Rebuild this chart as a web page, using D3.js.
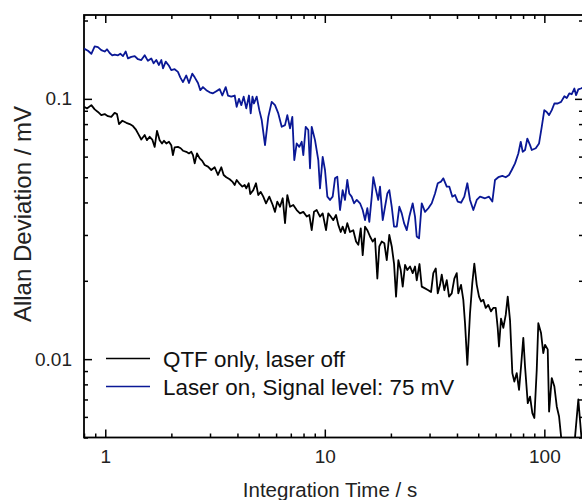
<!DOCTYPE html>
<html>
<head>
<meta charset="utf-8">
<script src="https://cdn.jsdelivr.net/npm/d3@7"></script>
<style>
  html, body { margin: 0; padding: 0; background: #fff; }
  svg { display: block; font-family: "Liberation Sans", Arial, sans-serif; }
</style>
</head>
<body>
<svg id="chart" width="582" height="500"></svg>
<script>
// ---- Data ----
const tauQTF = [0.80,0.825,0.864,0.895,0.926,0.959,0.994,1.028,1.065,1.103,
1.131,1.155,1.196,1.247,1.292,1.337,1.376,1.409,1.459,1.512,
1.548,1.593,1.637,1.679,1.720,1.769,1.813,1.851,1.897,1.950,
1.998,2.033,2.070,2.143,2.205,2.259,2.339,2.406,2.466,2.509,
2.555,2.617,2.692,2.765,2.837,2.936,3.040,3.151,3.261,3.377,
3.462,3.558,3.687,3.790,3.886,3.968,4.096,4.210,4.315,4.389,
4.500,4.577,4.722,4.859,4.977,5.106,5.245,5.398,5.586,5.791,
5.931,6.073,6.251,6.430,6.588,6.749,6.942,7.184,7.447,7.709,
7.981,8.271,8.499,8.716,8.928,9.185,9.508,9.780,10.13,10.37,
10.64,10.93,11.25,11.52,11.82,12.06,12.36,12.66,13.02,13.48,
13.88,14.21,14.58,14.88,15.25,15.62,16.07,16.53,16.93,17.35,
17.71,18.16,18.67,19.15,19.67,20.18,20.67,21.11,21.63,22.17,
22.64,23.20,23.77,24.45,25.14,25.76,26.22,27.0,27.64,28.61,
29.62,30.47,31.21,32.02,32.70,33.49,34.09,35.03,35.93,36.80,
37.86,38.91,39.90,40.56,41.74,42.75,43.52,44.59,45.86,46.97,
47.98,49.21,50.41,51.48,52.71,54.08,55.54,57.16,58.54,60.05,
61.31,62.16,63.49,65.03,66.71,68.11,69.78,71.49,73.00,74.86,
76.69,78.32,80.20,81.67,84.03,86.08,88.19,90.04,92.34,93.87,
96.60,98.89,100.7,103.6,105.1,108.1,111.1,113.9,116.7,119.2,
123,131,138.0,142.8,147.5,151];
const adevQTF = [0.0932,0.0919,0.0946,0.0911,0.0891,0.0866,0.0874,0.0858,0.0853,0.0884,
0.0874,0.0800,0.0824,0.0809,0.0800,0.0786,0.0764,0.0737,0.0698,0.0726,
0.0694,0.0715,0.0698,0.0654,0.0754,0.0694,0.0674,0.0690,0.0674,0.0684,
0.0664,0.0608,0.0651,0.0654,0.0646,0.0632,0.0626,0.0617,0.0626,0.0608,
0.0565,0.0617,0.0591,0.0578,0.0557,0.0549,0.0533,0.0546,0.0510,0.0546,
0.0510,0.0500,0.0491,0.0481,0.0467,0.0488,0.0471,0.0460,0.0467,0.0453,
0.0474,0.0431,0.0446,0.0474,0.0427,0.0439,0.0421,0.0397,0.0421,0.0391,
0.0368,0.0403,0.0385,0.0415,0.0333,0.0427,0.0385,0.0391,0.0374,0.0363,
0.0368,0.0353,0.0358,0.0313,0.0368,0.0374,0.0353,0.0363,0.0313,0.0363,
0.0353,0.0342,0.0358,0.0328,0.0308,0.0323,0.0305,0.0333,0.0308,0.0313,
0.0283,0.0275,0.0318,0.0251,0.0323,0.0313,0.0296,0.0283,0.0291,0.0204,
0.0271,0.0283,0.0279,0.0240,0.0300,0.0271,0.0233,0.01739,0.0240,0.0220,
0.0190,0.0230,0.0220,0.0227,0.0214,0.0227,0.0201,0.0232,0.0190,0.0187,
0.0184,0.0181,0.0214,0.0223,0.0179,0.0193,0.0211,0.0184,0.0201,0.01739,
0.0179,0.0204,0.0214,0.0179,0.0193,0.0169,0.01374,0.00951,0.01501,0.0196,
0.0233,0.0193,0.01739,0.01665,0.0169,0.01573,0.01616,0.01527,0.01573,0.01573,
0.0132,0.01118,0.01431,0.0132,0.01479,0.01739,0.0141,0.00884,0.00820,0.00884,
0.00762,0.00937,0.01208,0.00937,0.00678,0.00718,0.00620,0.00594,0.00910,0.01374,
0.01259,0.01055,0.01135,0.0109,0.00629,0.00846,0.00785,0.00658,0.00602,0.00504,
0.0043,0.0042,0.00503,0.0070,0.00503,0.0045];

const tauLaser = [0.80,0.834,0.864,0.895,0.926,0.959,0.994,1.018,1.047,1.076,
1.103,1.143,1.171,1.204,1.239,1.269,1.314,1.362,1.409,1.459,
1.512,1.564,1.620,1.661,1.707,1.756,1.800,1.832,1.885,1.950,
1.998,2.070,2.143,2.196,2.259,2.339,2.406,2.492,2.555,2.644,
2.710,2.786,2.885,2.989,3.095,3.205,3.320,3.413,3.536,3.621,
3.750,3.886,3.968,4.066,4.166,4.270,4.389,4.514,4.596,4.683,
4.757,4.895,5.031,5.159,5.341,5.528,5.729,5.931,6.140,6.364,
6.588,6.749,6.942,7.112,7.261,7.447,7.652,7.848,7.981,8.185,
8.410,8.562,8.716,9.023,9.340,9.508,9.780,10.02,10.27,10.56,
10.86,11.13,11.40,11.73,12.06,12.36,12.66,12.92,13.25,13.59,
13.98,14.47,14.88,15.25,15.62,15.95,16.36,16.63,17.11,17.52,
17.84,18.36,18.81,19.27,19.67,20.18,20.67,21.27,21.85,22.41,
22.96,23.62,24.27,25.14,25.76,26.22,26.87,27.64,28.61,29.62,
30.69,31.78,32.70,33.84,34.67,35.93,36.92,38.10,39.20,40.33,
41.74,43.20,44.59,45.86,47.48,49.21,50.94,53.68,55.97,57.95,
59.61,61.71,64.36,66.71,69.05,71.04,73.54,76.13,78.07,79.71,
81.67,83.67,86.08,87.63,91.38,94.59,97.31,99.96,102.5,105.1,
108.1,111.1,115.1,119.2,123.4,126.5,129.9,133.3,137.0,139.5,
142.8,146.5,152];
const adevLaser = [0.156,0.153,0.149,0.159,0.158,0.154,0.152,0.155,0.150,0.147,
0.148,0.147,0.149,0.146,0.152,0.143,0.145,0.146,0.142,0.141,
0.147,0.140,0.143,0.137,0.141,0.135,0.141,0.131,0.139,0.134,
0.129,0.130,0.127,0.121,0.116,0.123,0.115,0.125,0.121,0.115,
0.108,0.111,0.108,0.106,0.105,0.107,0.109,0.103,0.111,0.103,
0.102,0.103,0.0932,0.100,0.0946,0.102,0.0919,0.103,0.0879,0.102,
0.0960,0.102,0.0905,0.0829,0.0664,0.0853,0.0974,0.0946,0.0879,0.0781,
0.0793,0.0866,0.0770,0.0853,0.0582,0.0674,0.0654,0.0684,0.0608,0.0781,
0.0759,0.0541,0.0781,0.0694,0.0582,0.0453,0.0599,0.0533,0.0421,0.0409,
0.0421,0.0495,0.0502,0.0374,0.0446,0.0409,0.0488,0.0433,0.0421,0.0397,
0.0409,0.0397,0.0374,0.0342,0.0380,0.0337,0.0421,0.0500,0.0446,0.0409,
0.0460,0.0342,0.0385,0.0433,0.0446,0.0385,0.0323,0.0323,0.0385,0.0363,
0.0333,0.0313,0.0353,0.0397,0.0353,0.0296,0.0291,0.0397,0.0368,0.0380,
0.0397,0.0433,0.0474,0.0481,0.0495,0.0460,0.0460,0.0421,0.0427,0.0403,
0.0399,0.0421,0.0474,0.0409,0.0374,0.0409,0.0421,0.0415,0.0421,0.0403,
0.0488,0.0500,0.0506,0.0500,0.0510,0.0533,0.0565,0.0617,0.0684,0.0626,
0.0636,0.0704,0.0664,0.0636,0.0646,0.0674,0.0781,0.0905,0.0891,0.0866,
0.0905,0.0960,0.0960,0.0974,0.1024,0.1008,0.1049,0.1042,0.1096,0.1033,
0.1087,0.1096,0.111];

const seriesNames = ["QTF only, laser off", "Laser on, Signal level: 75 mV"];
const seriesColors = ["#000000", "#0a1896"];
const xMajorTicks = [1, 10, 100];
const xMinorTicks = [0.8, 0.9, 2, 3, 4, 5, 6, 7, 8, 9, 20, 30, 40, 50, 60, 70, 80, 90];
const yMajorTicks = [0.01, 0.1];
const yMinorTicks = [0.005, 0.006, 0.007, 0.008, 0.009, 0.02, 0.03, 0.04, 0.05, 0.06, 0.07, 0.08, 0.09, 0.2];
const xTitle = "Integration Time / s";
const yTitle = "Allan Deviation / mV";

// ---- Layout ----
const L = 84, R = 583, T = 15, B = 437.5;
const svg = d3.select("#chart");
const x = d3.scaleLog().domain([0.8, 150]).range([L, R]);
const y = d3.scaleLog().domain([0.005, 0.21]).range([B, T]);

svg.append("defs").append("clipPath").attr("id", "clip")
  .append("rect").attr("x", L).attr("y", T).attr("width", R - L).attr("height", B - T);

const fmtY = d => (d === 0.1 ? "0.1" : "0.01");
const fmtX = d => String(d);

function styleAxis(g) {
  g.select(".domain").remove();
  g.selectAll(".tick line").attr("stroke", "#000").attr("stroke-width", 1.5);
  g.selectAll(".tick text").attr("fill", "#222").style("font-size", "19px")
    .style("font-family", "'Liberation Sans', Arial, sans-serif");
}

// Bottom
svg.append("g").attr("transform", `translate(0,${B})`)
  .call(d3.axisBottom(x).tickValues(xMinorTicks).tickSize(-4).tickFormat(""))
  .call(styleAxis);
svg.append("g").attr("transform", `translate(0,${B})`)
  .call(d3.axisBottom(x).tickValues(xMajorTicks).tickSize(-8).tickPadding(12).tickFormat(fmtX))
  .call(styleAxis);
// Top
svg.append("g").attr("transform", `translate(0,${T})`)
  .call(d3.axisTop(x).tickValues(xMinorTicks).tickSize(-4).tickFormat(""))
  .call(styleAxis);
svg.append("g").attr("transform", `translate(0,${T})`)
  .call(d3.axisTop(x).tickValues(xMajorTicks).tickSize(-8).tickFormat(""))
  .call(styleAxis);
// Left
svg.append("g").attr("transform", `translate(${L},0)`)
  .call(d3.axisLeft(y).tickValues(yMinorTicks).tickSize(-4).tickFormat(""))
  .call(styleAxis);
svg.append("g").attr("transform", `translate(${L},0)`)
  .call(d3.axisLeft(y).tickValues(yMajorTicks).tickSize(-8).tickPadding(12).tickFormat(fmtY))
  .call(styleAxis);
// Right
svg.append("g").attr("transform", `translate(${R},0)`)
  .call(d3.axisRight(y).tickValues(yMinorTicks).tickSize(-4).tickFormat(""))
  .call(styleAxis);
svg.append("g").attr("transform", `translate(${R},0)`)
  .call(d3.axisRight(y).tickValues(yMajorTicks).tickSize(-8).tickFormat(""))
  .call(styleAxis);

// Frame
svg.append("rect").attr("x", L).attr("y", T).attr("width", R - L).attr("height", B - T)
  .attr("fill", "none").attr("stroke", "#000").attr("stroke-width", 1.8);

// Lines
const line = d3.line().x(d => x(d[0])).y(d => y(d[1]));
const plot = svg.append("g").attr("clip-path", "url(#clip)");
plot.append("path").datum(d3.zip(tauLaser, adevLaser))
  .attr("d", line).attr("fill", "none").attr("stroke", seriesColors[1]).attr("stroke-width", 1.8)
  .attr("stroke-linejoin", "round");
plot.append("path").datum(d3.zip(tauQTF, adevQTF))
  .attr("d", line).attr("fill", "none").attr("stroke", seriesColors[0]).attr("stroke-width", 1.8)
  .attr("stroke-linejoin", "round");

// Legend
const leg = svg.append("g");
seriesNames.forEach((name, i) => {
  const yy = 358.5 + i * 28;
  leg.append("line").attr("x1", 106).attr("x2", 150).attr("y1", yy).attr("y2", yy)
    .attr("stroke", seriesColors[i]).attr("stroke-width", 1.3);
  leg.append("text").attr("x", 163).attr("y", yy + 8).text(name)
    .attr("fill", "#111").style("font-size", "22.4px");
});

// Axis titles
svg.append("text").attr("x", 330).attr("y", 497).attr("text-anchor", "middle")
  .attr("fill", "#222").style("font-size", "20.5px").text(xTitle);
svg.append("text").attr("transform", `translate(31,${214}) rotate(-90)`).attr("text-anchor", "middle")
  .attr("fill", "#222").style("font-size", "24px").text(yTitle);
</script>
</body>
</html>
